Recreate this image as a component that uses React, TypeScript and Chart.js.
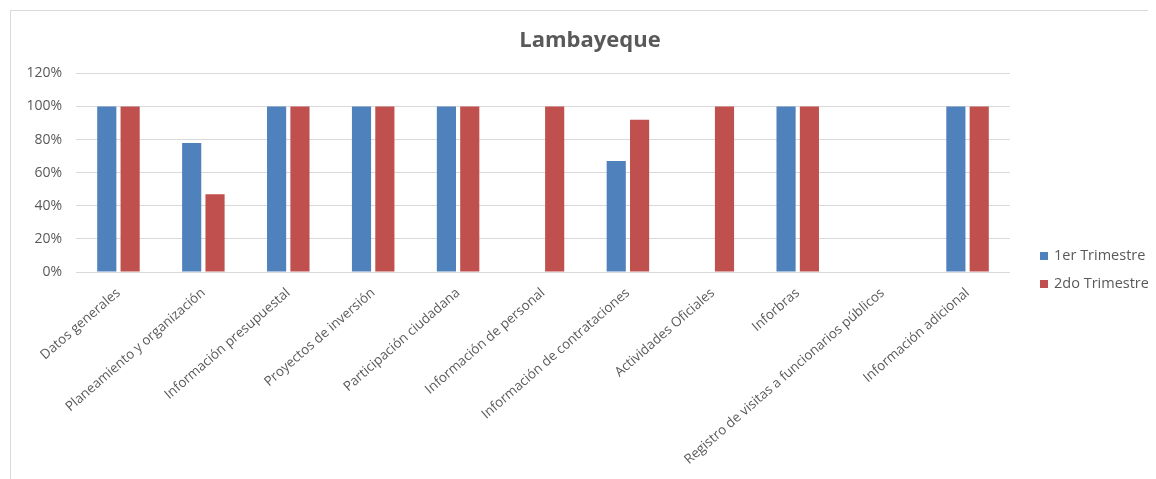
import React, { useEffect, useRef } from "react";
import { Chart, registerables } from "chart.js";

Chart.register(...registerables);

const categories = [
  "Datos generales",
  "Planeamiento y organización",
  "Información presupuestal",
  "Proyectos de inversión",
  "Participación ciudadana",
  "Información de personal",
  "Información de contrataciones",
  "Actividades Oficiales",
  "Inforbras",
  "Registro de visitas a funcionarios públicos",
  "Información adicional",
];

const trimestre1 = [100, 78, 100, 100, 100, 0, 67, 0, 100, 0, 100];
const trimestre2 = [100, 47, 100, 100, 100, 100, 92, 100, 100, 0, 100];

const seriesNames = ["1er Trimestre", "2do Trimestre"];
const seriesColors = ["#4F81BD", "#C0504D"];
const yTicks = [0, 20, 40, 60, 80, 100, 120];

const FONT = "'Open Sans', 'Noto Sans', sans-serif";
const TEXT = "#595959";

const sideLegend = {
  id: "sideLegend",
  afterDraw(chart: any) {
    const { ctx, chartArea } = chart;
    ctx.save();
    ctx.font = `14.5px ${FONT}`;
    ctx.textBaseline = "middle";
    ctx.textAlign = "left";
    chart.data.datasets.forEach((ds: any, i: number) => {
      const x = chartArea.right + 30;
      const y = chartArea.bottom - 16 + i * 28;
      ctx.fillStyle = ds.backgroundColor;
      ctx.fillRect(x, y - 4, 8, 8);
      ctx.fillStyle = TEXT;
      ctx.fillText(ds.label, x + 14, y);
    });
    ctx.restore();
  },
};

export default function App() {
  const ref = useRef<HTMLCanvasElement | null>(null);

  useEffect(() => {
    if (!ref.current) return;
    const chart = new Chart(ref.current, {
      type: "bar",
      data: {
        labels: categories,
        datasets: seriesNames.map((name, i) => ({
          label: name,
          data: i === 0 ? trimestre1 : trimestre2,
          backgroundColor: seriesColors[i],
          categoryPercentage: 0.55,
          barPercentage: 0.82,
          yAxisID: "y",
        })),
      },
      options: {
        responsive: false,
        animation: false,
        layout: { padding: { left: 12, right: 0, bottom: 0, top: 0 } },
        plugins: {
          title: {
            display: true,
            text: "Lambayeque",
            color: TEXT,
            font: { family: FONT, size: 22, weight: "bold" },
            padding: { top: 17, bottom: 19 },
          },
          legend: { display: false },
          tooltip: { enabled: false },
        },
        scales: {
          x: {
            grid: { display: false, drawTicks: false },
            border: { display: false },
            ticks: {
              color: TEXT,
              font: { family: FONT, size: 13.4 },
              minRotation: 41,
              maxRotation: 41,
              autoSkip: false,
              padding: 13,
            },
            afterFit: (axis: any) => {
              axis.paddingLeft = 0;
              axis.paddingRight = 0;
              axis.height = 208;
            },
          },
          y: {
            min: 0,
            max: 120,
            afterBuildTicks: (axis: any) => {
              axis.ticks = yTicks.map((v) => ({ value: v }));
            },
            grid: { color: "#d9d9d9", drawTicks: false },
            border: { display: false },
            ticks: {
              color: TEXT,
              font: { family: FONT, size: 14 },
              padding: 14,
              callback: (v: any) => v + "%",
            },
            afterFit: (axis: any) => {
              axis.width = 53;
            },
          },
          legendSpace: {
            type: "linear",
            position: "right",
            display: true,
            grid: { display: false, drawTicks: false },
            border: { display: false },
            ticks: { display: false },
            afterFit: (axis: any) => {
              axis.width = 147;
            },
          },
        },
      },
      plugins: [sideLegend],
    });
    return () => chart.destroy();
  }, []);

  return (
    <div
      style={{
        marginLeft: 2,
        marginTop: 2,
        borderLeft: "1px solid #d9d9d9",
        borderTop: "1px solid #d9d9d9",
        width: 1146,
        height: 469,
        background: "#fff",
      }}
    >
      <canvas ref={ref} width={1146} height={469} style={{ display: "block" }} />
    </div>
  );
}
